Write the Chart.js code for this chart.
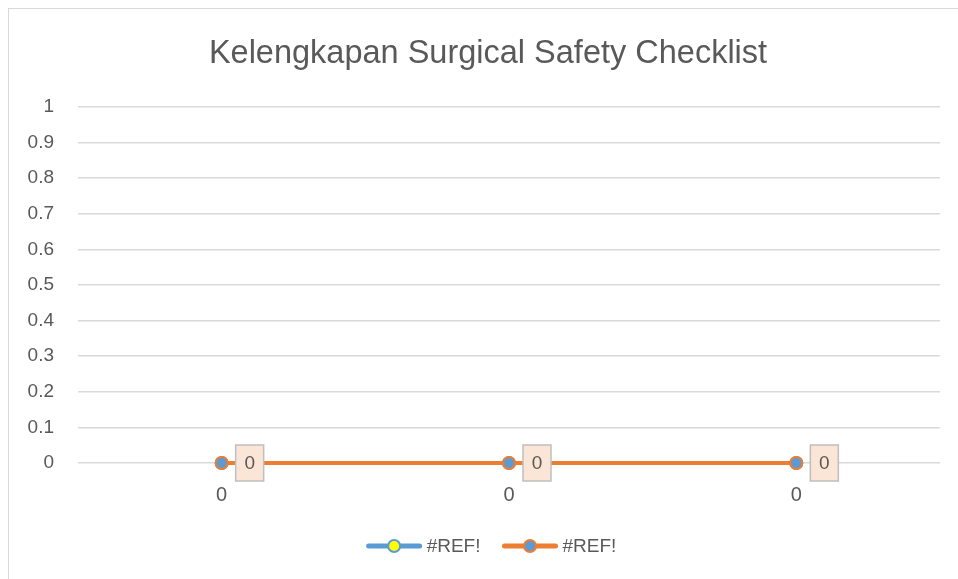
<!DOCTYPE html>
<html lang="en">
<head>
    <meta charset="UTF-8">
    <title>Kelengkapan Surgical Safety Checklist</title>
    <script src="https://cdn.jsdelivr.net/npm/chart.js"></script>
    <style>
        body {
            margin: 0;
            background-color: #fff;
            font-family: "Liberation Sans", Arial, sans-serif;
            overflow: hidden;
        }
        .frame {
            position: absolute;
            left: 8px;
            top: 8px;
            width: 980px;
            height: 580px;
            border: 1px solid #d9d9d9;
        }
        .chart-container {
            position: absolute;
            left: 0;
            top: 0;
            width: 958px;
            height: 579px;
        }
    </style>
</head>
<body>
    <div class="frame"></div>
    <div class="chart-container">
        <canvas id="safetyChart"></canvas>
    </div>

    <script>
        const chartTitle = 'Kelengkapan Surgical Safety Checklist';
        const categories = ['0', '0', '0'];
        const seriesNames = ['#REF!', '#REF!'];
        const seriesA = [0, 0, 0];
        const seriesB = [0, 0, 0];
        const yTicks = [0, 0.1, 0.2, 0.3, 0.4, 0.5, 0.6, 0.7, 0.8, 0.9, 1];

        const textColor = '#595959';
        const gridColor = '#d9d9d9';
        // the original frame is wider than the picture, so title and legend sit right of centre
        const frameCenter = 490;

        const dataLabels = {
            id: 'dataLabels',
            afterDatasetsDraw(chart) {
                const meta = chart.getDatasetMeta(1);
                const ctx = chart.ctx;
                ctx.save();
                meta.data.forEach((pt, i) => {
                    const x = pt.x + 14;
                    const y = pt.y - 18;
                    ctx.fillStyle = '#fbe5d6';
                    ctx.strokeStyle = '#bfbfbf';
                    ctx.lineWidth = 1.5;
                    ctx.fillRect(x, y, 28, 36);
                    ctx.strokeRect(x, y, 28, 36);
                    ctx.fillStyle = textColor;
                    ctx.font = '19px "Liberation Sans"';
                    ctx.textAlign = 'center';
                    ctx.textBaseline = 'middle';
                    ctx.fillText(String(chart.data.datasets[1].data[i]), x + 14, pt.y + 1);
                });
                ctx.restore();
            }
        };

        // title and bottom legend (line with a dot, then the series name)
        const titleAndLegend = {
            id: 'titleAndLegend',
            afterDraw(chart) {
                const ctx = chart.ctx;
                const sets = chart.data.datasets;
                ctx.save();
                ctx.fillStyle = textColor;
                ctx.font = '32.5px "Liberation Sans"';
                ctx.textAlign = 'center';
                ctx.textBaseline = 'middle';
                ctx.fillText(chartTitle, frameCenter - 2, 54);

                ctx.font = '19px "Liberation Sans"';
                const markW = 55, gap = 5, itemGap = 22;
                const widths = sets.map(ds => markW + gap + ctx.measureText(ds.label).width);
                const total = widths.reduce((a, b) => a + b, 0) + itemGap * (sets.length - 1);
                let x = frameCenter + 1.5 - total / 2;
                const y = chart.height - 33;
                sets.forEach((ds, i) => {
                    ctx.strokeStyle = ds.borderColor;
                    ctx.lineWidth = 5;
                    ctx.lineCap = 'round';
                    ctx.beginPath();
                    ctx.moveTo(x + 2, y);
                    ctx.lineTo(x + markW - 2, y);
                    ctx.stroke();
                    ctx.beginPath();
                    ctx.arc(x + markW / 2, y, 6, 0, Math.PI * 2);
                    ctx.fillStyle = ds.pointBackgroundColor;
                    ctx.fill();
                    ctx.lineWidth = 2;
                    ctx.strokeStyle = ds.pointBorderColor;
                    ctx.stroke();
                    ctx.fillStyle = textColor;
                    ctx.textAlign = 'left';
                    ctx.textBaseline = 'middle';
                    ctx.fillText(ds.label, x + markW + gap, y + 1);
                    x += widths[i] + itemGap;
                });
                ctx.restore();
            }
        };

        const ctx = document.getElementById('safetyChart').getContext('2d');
        new Chart(ctx, {
            type: 'line',
            data: {
                labels: categories,
                datasets: [{
                    label: seriesNames[0],
                    data: seriesA,
                    order: 2,
                    clip: 10,
                    borderColor: '#5b9bd5',
                    backgroundColor: '#ffff00',
                    pointBackgroundColor: '#ffff00',
                    pointBorderColor: '#5b9bd5',
                    borderWidth: 4,
                    pointRadius: 6,
                    pointBorderWidth: 2,
                    pointStyle: 'circle'
                }, {
                    label: seriesNames[1],
                    data: seriesB,
                    order: 1,
                    clip: 10,
                    borderColor: '#ed7d31',
                    backgroundColor: '#5b9bd5',
                    pointBackgroundColor: '#5b9bd5',
                    pointBorderColor: '#ed7d31',
                    borderWidth: 4,
                    pointRadius: 6,
                    pointBorderWidth: 2,
                    pointStyle: 'circle'
                }]
            },
            options: {
                responsive: true,
                maintainAspectRatio: false,
                animation: false,
                layout: {
                    padding: { left: 0, right: 18, top: 107, bottom: 57 }
                },
                plugins: {
                    title: { display: false },
                    legend: { display: false },
                    tooltip: { enabled: false }
                },
                scales: {
                    x: {
                        offset: true,
                        grid: { display: false, drawTicks: false },
                        border: { display: false },
                        ticks: {
                            color: textColor,
                            font: { family: 'Liberation Sans', size: 20 },
                            padding: 20
                        },
                        afterFit(scale) { scale.height = 59; }
                    },
                    y: {
                        min: 0,
                        max: 1,
                        afterBuildTicks(scale) {
                            scale.ticks = yTicks.map(v => ({ value: v }));
                        },
                        grid: { color: gridColor, lineWidth: 1.5, drawTicks: false },
                        border: { display: false },
                        ticks: {
                            color: textColor,
                            font: { family: 'Liberation Sans', size: 19 },
                            padding: 24,
                            callback: v => String(v)
                        },
                        afterFit(scale) { scale.width = 78; }
                    }
                }
            },
            plugins: [dataLabels, titleAndLegend]
        });
    </script>
</body>
</html>
